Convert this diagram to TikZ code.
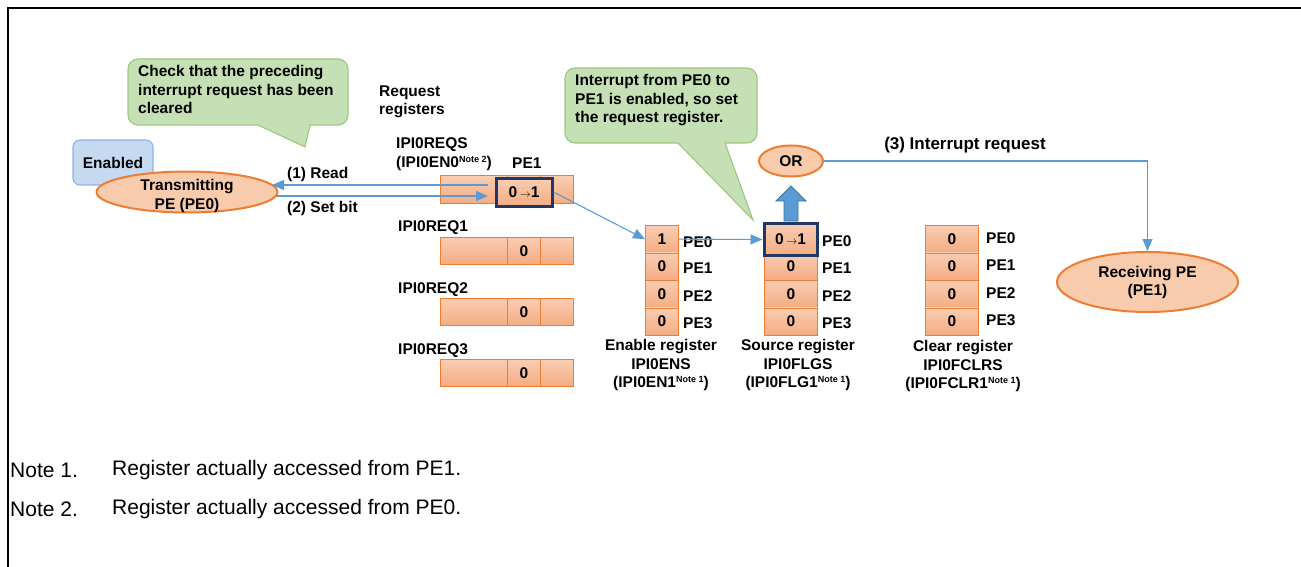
\documentclass[tikz,border=0pt]{standalone}
\usepackage{fontspec}
\setmainfont{Liberation Sans}
\usetikzlibrary{arrows.meta,shapes.geometric}
\definecolor{orfill}{HTML}{F8CBAD}
\definecolor{orline}{HTML}{ED7D31}
\definecolor{celltop}{HTML}{F9CDB3}
\definecolor{cellbot}{HTML}{F4AC82}
\definecolor{arrblue}{HTML}{5B9BD5}
\definecolor{arrbdark}{HTML}{41719C}
\definecolor{navy}{HTML}{203864}
\definecolor{gfill}{HTML}{C5E0B4}
\definecolor{gline}{HTML}{9CC77E}
\definecolor{bfill}{HTML}{C5D9F1}
\definecolor{bline}{HTML}{8EB4E3}
\newcommand{\notesup}[1]{\raisebox{5pt}{\fontsize{9}{9}\selectfont #1}}
\begin{document}
\begin{tikzpicture}[x=1pt,y=-1pt,
  lbl/.style={font=\bfseries\fontsize{15.5}{18.5}\selectfont, inner sep=0pt},
  cell/.style={draw=orline, line width=0.8pt, top color=celltop, bottom color=cellbot,
     inner sep=0pt, anchor=north west, font=\bfseries\fontsize{15.5}{18}\selectfont},
  hlcell/.style={draw=navy, line width=3pt, top color=celltop, bottom color=cellbot,
     inner sep=0pt, font=\bfseries\fontsize{15.5}{18}\selectfont},
  arr/.style={draw=arrblue, line width=1.1pt, -{Triangle[length=12pt,width=10pt]}},
  pe/.style={ellipse, draw=orline, line width=2pt, fill=orfill, inner sep=0pt},
  callout/.style={draw=gline, line width=1.1pt, fill=gfill, rounded corners=10pt},
  notetxt/.style={font=\fontsize{21}{24}\selectfont, inner sep=0pt, anchor=west}
]
\useasboundingbox (0,0) rectangle (1301,567);
% frame
\draw[line width=2pt] (7.5,567) -- (7.5,8.5) -- (1301,8.5);

% callout 1
\draw[callout] (238,59) -- (348,59) -- (348,125) [sharp corners] -- (310,125) -- (305,147) -- (258,125) [rounded corners=10pt] -- (128,125) -- (128,59) -- cycle;
\node[lbl, anchor=west, align=left] (c1t) at (138,89.5) {Check that the preceding\\interrupt request has been\\cleared};

% callout 2
\draw[callout] (660,68) -- (757,68) -- (757,143) [sharp corners] -- (725,143) -- (753,220) -- (678,143) [rounded corners=10pt] -- (565,143) -- (565,68) -- cycle;
\node[lbl, anchor=west, align=left] (c2t) at (575,100.5) {Interrupt from PE0 to\\PE1 is enabled, so set\\the request register.};

% enabled + transmitting PE
\node[draw=bline, fill=bfill, line width=1.1pt, rounded corners=7pt, minimum width=80pt, minimum height=45pt, lbl] (enb) at (113,162.5) {Enabled};
\node[pe, minimum width=181pt, minimum height=41pt] (tx) at (187,192) {};
\node[lbl, align=center] (txt) at (187,196) {Transmitting\\PE (PE0)};

% request registers labels
\node[lbl, anchor=west, align=left] (rrl) at (379,102) {Request\\registers};
\node[lbl, anchor=west] (l0) at (396,145) {IPI0REQS};
\node[lbl, anchor=west] (l0b) at (396,163) {(IPI0EN0\notesup{Note 2})};
\node[lbl, anchor=west] (pe1l) at (512,163) {PE1};
\node[lbl, anchor=west] (l1) at (398,228) {IPI0REQ1};
\node[lbl, anchor=west] (l2) at (398,290) {IPI0REQ2};
\node[lbl, anchor=west] (l3) at (398,351) {IPI0REQ3};

% request register bars
\node[cell, minimum width=67pt, minimum height=28pt] (r0a) at (440,175) {};
\node[cell, minimum width=33pt, minimum height=28pt] (r0b) at (507,175) {};
\node[cell, minimum width=33pt, minimum height=28pt] (r0c) at (540,175) {};
\node[hlcell, minimum width=56pt, minimum height=28pt] (hl) at (524,192) {0\,\fontsize{11}{11}\selectfont$\rightarrow$\fontsize{15.5}{18}\selectfont 1};

\node[cell, minimum width=67pt, minimum height=27pt] (r1a) at (440,237) {};
\node[cell, minimum width=33pt, minimum height=27pt] (r1b) at (507,237) {0};
\node[cell, minimum width=33pt, minimum height=27pt] (r1c) at (540,237) {};
\node[cell, minimum width=67pt, minimum height=27pt] (r2a) at (440,298) {};
\node[cell, minimum width=33pt, minimum height=27pt] (r2b) at (507,298) {0};
\node[cell, minimum width=33pt, minimum height=27pt] (r2c) at (540,298) {};
\node[cell, minimum width=67pt, minimum height=27pt] (r3a) at (440,359) {};
\node[cell, minimum width=33pt, minimum height=27pt] (r3b) at (507,359) {0};
\node[cell, minimum width=33pt, minimum height=27pt] (r3c) at (540,359) {};

% enable register
\node[cell, minimum width=33pt, minimum height=27.5pt] (en0) at (645,225) {1};
\node[cell, minimum width=33pt, minimum height=27.5pt] (en1) at (645,252.5) {0};
\node[cell, minimum width=33pt, minimum height=27.5pt] (en2) at (645,280) {0};
\node[cell, minimum width=33pt, minimum height=27.5pt] (en3) at (645,307.5) {0};
\node[lbl, anchor=west] (enp0) at (683,242) {PE0};
\node[lbl, anchor=west] (enp1) at (683,268) {PE1};
\node[lbl, anchor=west] (enp2) at (683,296) {PE2};
\node[lbl, anchor=west] (enp3) at (683,323) {PE3};
\node[lbl, align=center] (enl) at (661,365) {Enable register\\IPI0ENS\\(IPI0EN1\notesup{Note 1})};

% source register
\node[cell, minimum width=53pt, minimum height=27.5pt] (s0) at (764,225) {};
\node[cell, minimum width=53pt, minimum height=27.5pt] (s1) at (764,252.5) {0};
\node[cell, minimum width=53pt, minimum height=27.5pt] (s2) at (764,280) {0};
\node[cell, minimum width=53pt, minimum height=27.5pt] (s3) at (764,307.5) {0};
\node[hlcell, minimum width=53pt, minimum height=32pt] (shl) at (790.5,239.5) {0\,\fontsize{11}{11}\selectfont$\rightarrow$\fontsize{15.5}{18}\selectfont 1};
\node[lbl, anchor=west] (sp0) at (822,241) {PE0};
\node[lbl, anchor=west] (sp1) at (822,268) {PE1};
\node[lbl, anchor=west] (sp2) at (822,296) {PE2};
\node[lbl, anchor=west] (sp3) at (822,323) {PE3};
\node[lbl, align=center] (sl) at (798,365) {Source register\\IPI0FLGS\\(IPI0FLG1\notesup{Note 1})};

% clear register
\node[cell, minimum width=53pt, minimum height=27.5pt] (c0) at (925,225) {0};
\node[cell, minimum width=53pt, minimum height=27.5pt] (c1) at (925,252.5) {0};
\node[cell, minimum width=53pt, minimum height=27.5pt] (c2) at (925,280) {0};
\node[cell, minimum width=53pt, minimum height=27.5pt] (c3) at (925,307.5) {0};
\node[lbl, anchor=west] (cp0) at (986,238) {PE0};
\node[lbl, anchor=west] (cp1) at (986,265) {PE1};
\node[lbl, anchor=west] (cp2) at (986,293) {PE2};
\node[lbl, anchor=west] (cp3) at (986,320) {PE3};
\node[lbl, align=center] (cl) at (963,366) {Clear register\\IPI0FCLRS\\(IPI0FCLR1\notesup{Note 1})};

% OR and receiving PE
\node[pe, minimum width=64pt, minimum height=31pt, lbl] (or) at (791,161) {OR};
\node[pe, minimum width=181pt, minimum height=60pt] (rx) at (1147.5,282) {};
\node[lbl, align=center] (rxt) at (1147.5,282.5) {Receiving PE\\(PE1)};

% block arrow
\filldraw[fill=arrblue, draw=arrbdark, line width=0.8pt] (784,221) -- (784,201) -- (776,201) -- (791,186) -- (806,201) -- (798,201) -- (798,221) -- cycle;

% connectors
\coordinate (rd1) at (488,185);
\coordinate (rd2) at (272,185);
\coordinate (sb1) at (277,196);
\coordinate (sb2) at (488,196);
\draw[arr] (rd1) -- (rd2);
\draw[arr] (sb1) -- (sb2);
\node[lbl, anchor=west] (readl) at (287,174) {(1) Read};
\node[lbl, anchor=west] (setl) at (287,208) {(2) Set bit};
\draw[arr] (hl.east) -- (en0.west);
\draw[arr] (en0.east) -- (shl.west);
\draw[arr] (or.east) -| (rx.north);
\node[lbl, font=\bfseries\fontsize{17}{19}\selectfont] (irl) at (965,145) {(3) Interrupt request};

% notes
\node[notetxt] (n1) at (10,470) {Note 1.};
\node[notetxt] (n1t) at (112,470) {Register actually accessed from PE1.};
\node[notetxt] (n2) at (10,509) {Note 2.};
\node[notetxt] (n2t) at (112,509) {Register actually accessed from PE0.};
\end{tikzpicture}
\end{document}
